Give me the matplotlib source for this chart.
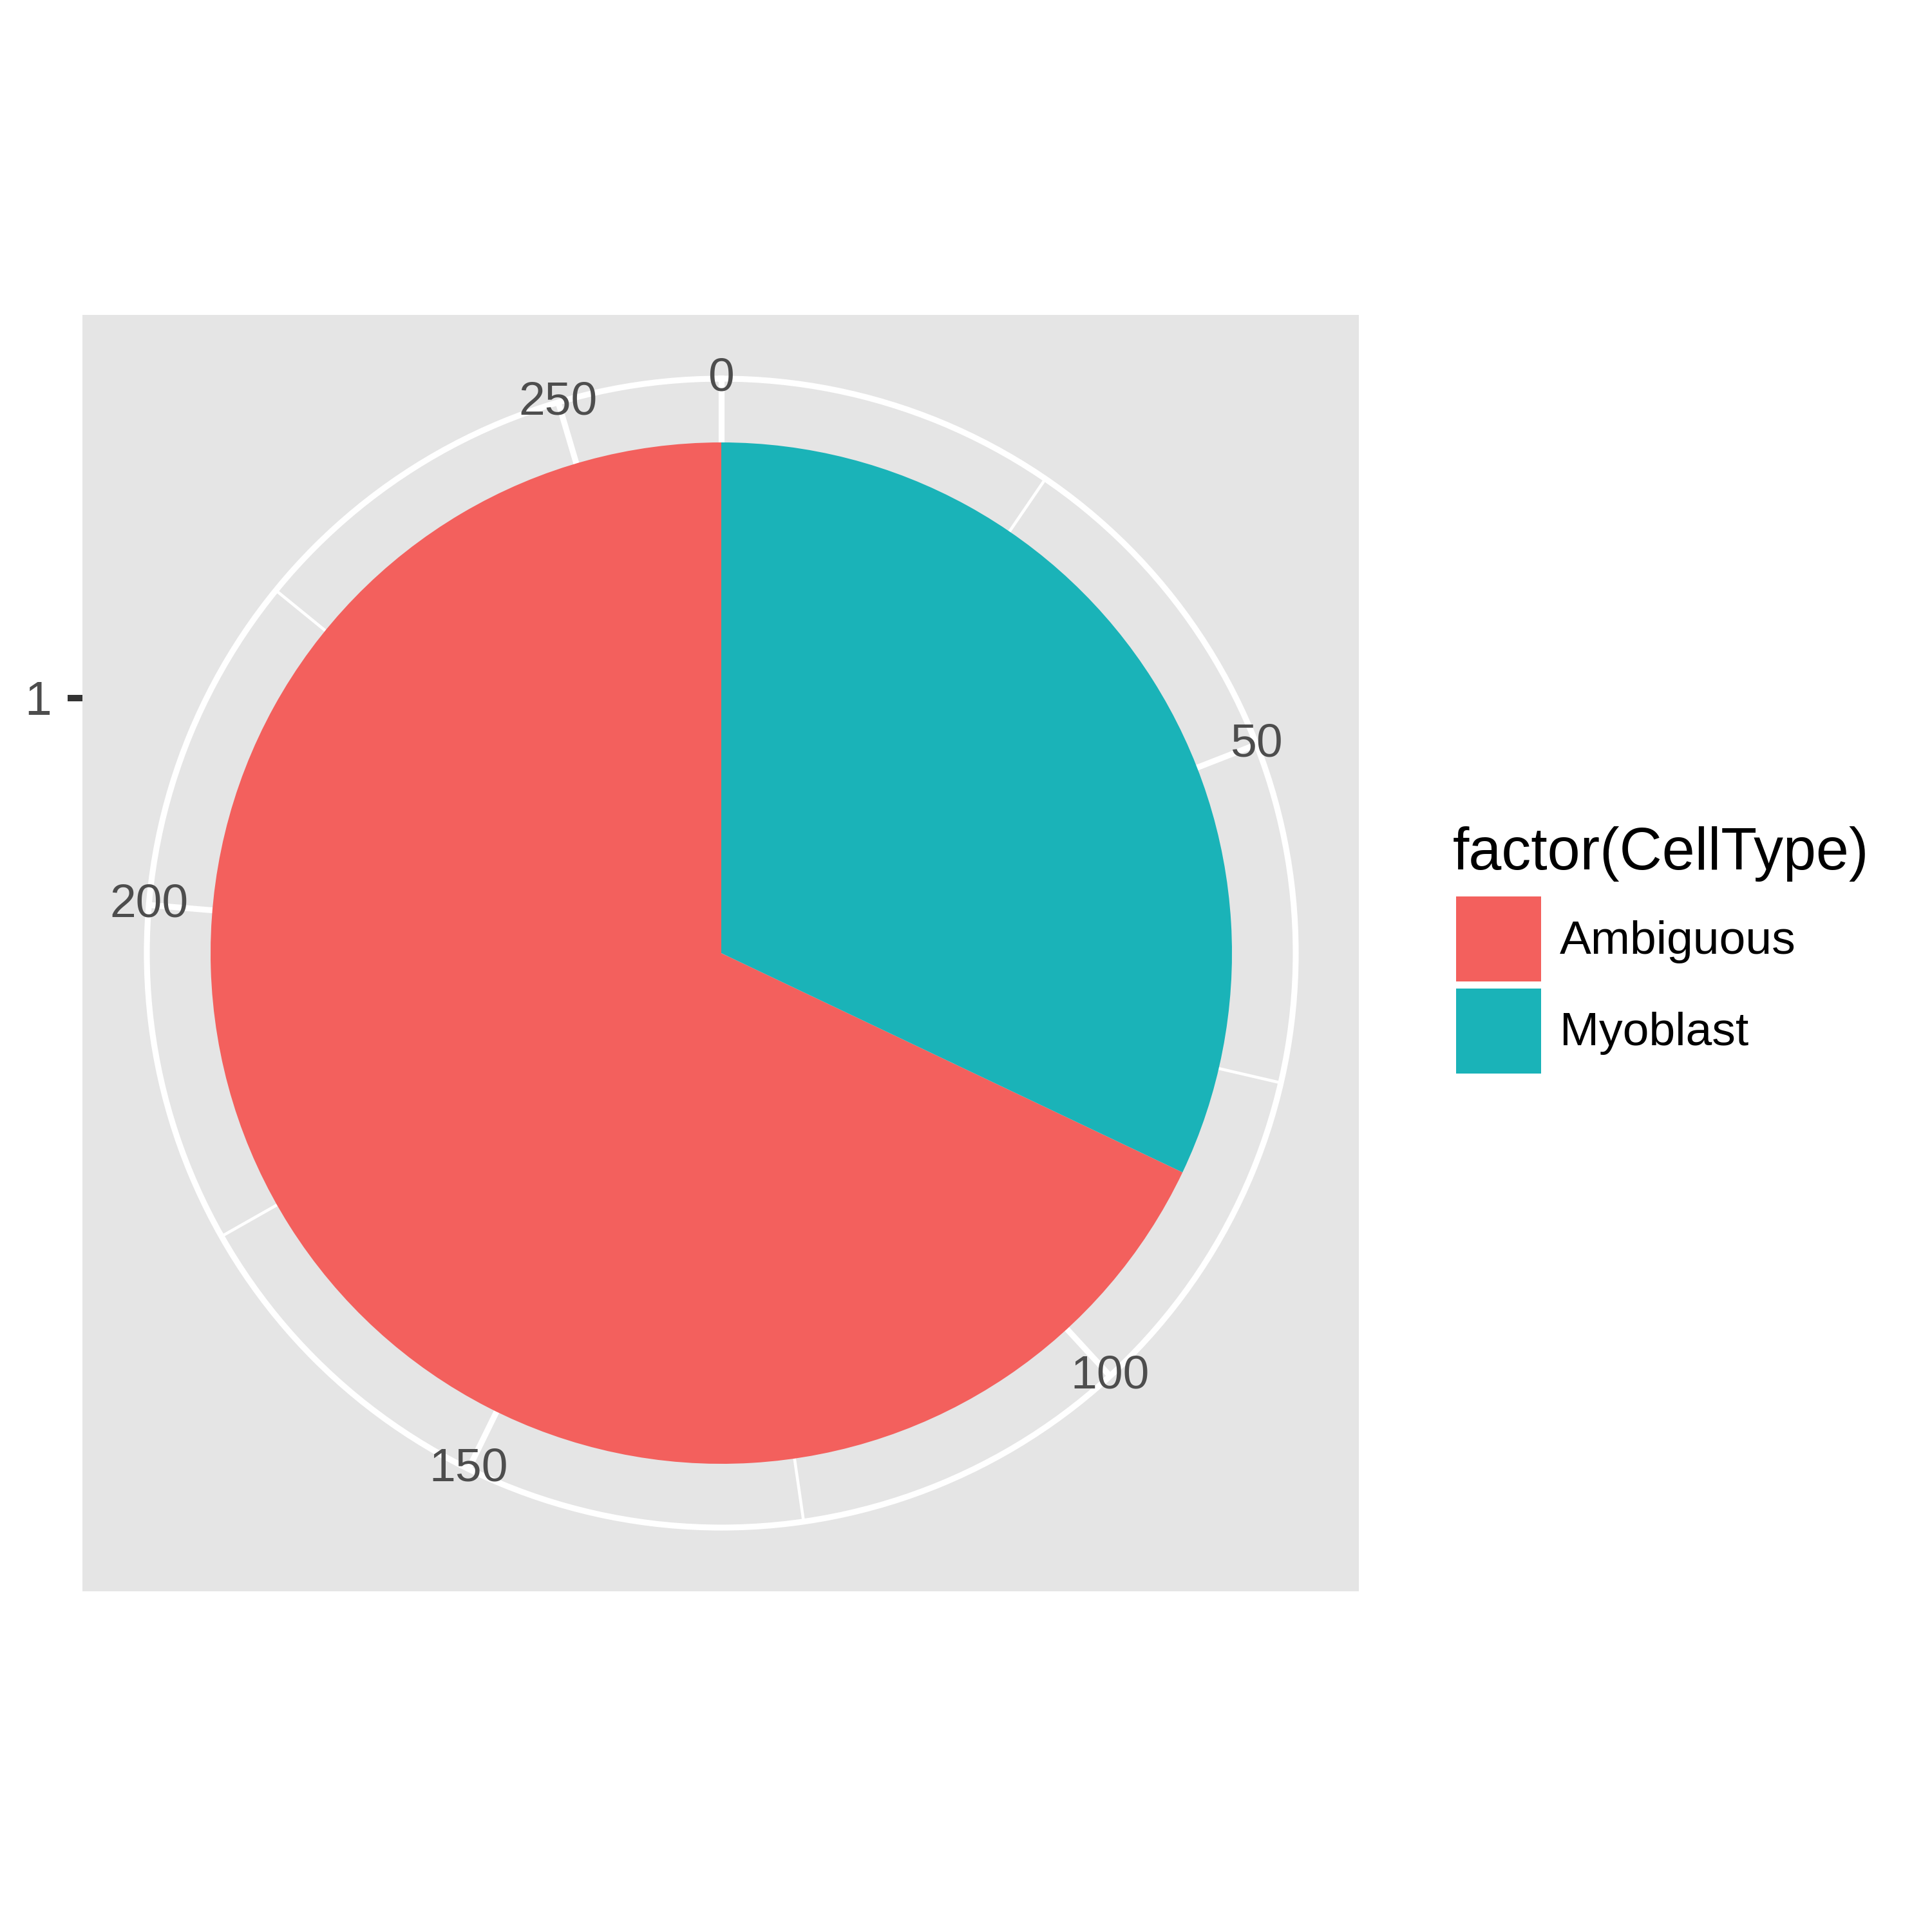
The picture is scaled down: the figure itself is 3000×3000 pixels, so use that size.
import numpy as np
import matplotlib
matplotlib.use("Agg")
import matplotlib.pyplot as plt
from matplotlib.ticker import FixedLocator

plt.rcParams["font.family"] = ["Liberation Sans", "DejaVu Sans"]

# data
cell_types = ["Ambiguous", "Myoblast"]
counts = [178, 84]
colors = ["#F3605D", "#1AB3B8"]
x_levels = ["1"]
theta_major = [0, 50, 100, 150, 200, 250]
theta_minor = [25, 75, 125, 175, 225]

W = H = 3000
panel_left, panel_top, panel_size = 128, 489, 1982
cx, cy = 1120, 1480
pie_r = 793        # px for one unit of x (bar width 1)
ring_r = 892       # px, outer grid circle

fig = plt.figure(figsize=(10, 10), dpi=300, facecolor="white")

# grey panel + the discrete "1" axis
bg = fig.add_axes([panel_left / W, 1 - (panel_top + panel_size) / H, panel_size / W, panel_size / H])
bg.set_facecolor("#E5E5E5")
half = panel_size / 2 / pie_r
bg.set_ylim(0.5 - half, 0.5 + half)
bg.set_xlim(-half, half)
bg.set_xticks([])
bg.set_yticks([1])
bg.set_yticklabels(x_levels)
bg.tick_params(axis="y", length=5.5, width=2.4, color="#333333", pad=6,
               labelsize=18, labelcolor="#4D4D4D")
for s in bg.spines.values():
    s.set_visible(False)

# polar pie
ax = fig.add_axes([(cx - ring_r) / W, 1 - (cy + ring_r) / H, 2 * ring_r / W, 2 * ring_r / H],
                  projection="polar")
ax.patch.set_alpha(0)
ax.set_theta_zero_location("N")
ax.set_theta_direction(-1)
total = sum(counts)
to_rad = lambda v: 2 * np.pi * np.asarray(v, dtype=float) / total

# stack like ggplot: first level on top
starts = np.cumsum([0] + counts[::-1])[:-1][::-1]
bars = []
for ct, n, s0, c in zip(cell_types, counts, starts, colors):
    b = ax.bar(to_rad(s0), 1, width=to_rad(n), bottom=0.5, align="edge",
               color=c, edgecolor="none", linewidth=0, label=ct, zorder=1)
    bars.append(b)

r_max = 0.5 + ring_r / pie_r
ax.set_rlim(0.5, r_max)
ax.set_yticks([1])
ax.set_yticklabels([])
ax.xaxis.set_major_locator(FixedLocator(to_rad(theta_major)))
ax.set_xticklabels([])
ax.xaxis.set_minor_locator(FixedLocator(to_rad(theta_minor)))
ax.tick_params(axis="x", which="both", length=0)
ax.grid(True, which="major", color="white", linewidth=2.2)
ax.grid(True, which="minor", axis="x", color="white", linewidth=1.1)
ax.set_axisbelow(True)
ax.spines["polar"].set_color("white")
ax.spines["polar"].set_linewidth(2.2)
ax.spines["polar"].set_zorder(0.4)

# theta labels sit centred on the outer circle, like coord_polar
for v in theta_major:
    ax.text(to_rad(v), r_max, str(v), ha="center", va="center",
            fontsize=17.6, color="#4D4D4D", zorder=3)

# legend
fig.text(2256 / W, 1 - 1350 / H, "factor(CellType)", fontsize=22,
         ha="left", va="baseline", color="black")
leg = fig.legend(handles=[b.patches[0] for b in bars], labels=cell_types,
                 loc="upper left", bbox_to_anchor=(2261 / W, 1 - 1392 / H),
                 frameon=False, fontsize=17.6, borderpad=0,
                 handlelength=1.8, handleheight=2.39, labelspacing=0.15,
                 handletextpad=0.4, borderaxespad=0)

fig.savefig("out.png", dpi=300, facecolor="white")
